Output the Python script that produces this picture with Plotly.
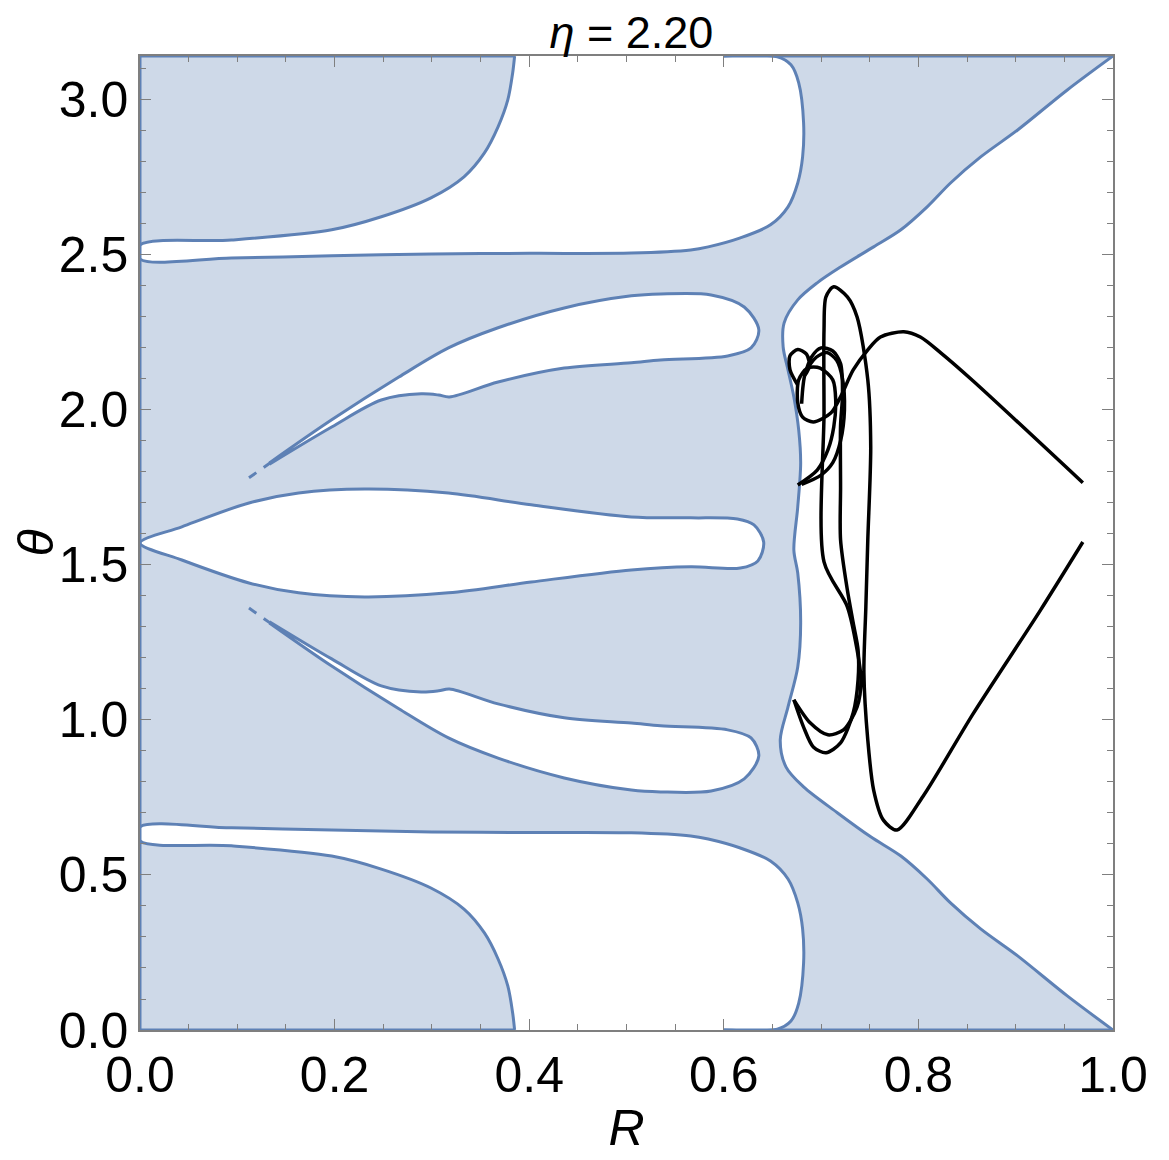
import plotly.graph_objects as go

PI = 3.14159265

# ---- region boundaries (R, theta) ----
# white gap under the top-left lobe (right wall, thin band, lobe edge)
top_gap_R = [0.600, 0.655, 0.669, 0.677, 0.682, 0.681, 0.676, 0.666, 0.648, 0.617, 0.584, 0.566,
             0.505, 0.400, 0.300, 0.197, 0.094, 0.0,
             0.0, 0.094, 0.197, 0.248, 0.299, 0.333, 0.354, 0.368, 0.378, 0.383, 0.385]
top_gap_theta = [3.1416, 3.139, 3.113, 3.055, 2.926, 2.816, 2.732, 2.655, 2.597, 2.555, 2.526, 2.516,
                 2.506, 2.505, 2.503, 2.497, 2.490, 2.487,
                 2.532, 2.548, 2.581, 2.623, 2.684, 2.752, 2.829, 2.913, 3.000, 3.087, 3.1416]

bottom_gap_R = [0.600, 0.655, 0.669, 0.677, 0.682, 0.681, 0.676, 0.666, 0.648, 0.617, 0.584, 0.566,
                0.505, 0.400, 0.300, 0.197, 0.094, 0.0,
                0.0, 0.094, 0.197, 0.248, 0.299, 0.333, 0.354, 0.368, 0.378, 0.383, 0.385]
bottom_gap_theta = [0.0, 0.003, 0.029, 0.087, 0.216, 0.326, 0.410, 0.487, 0.545, 0.587, 0.616, 0.626,
                    0.636, 0.637, 0.639, 0.645, 0.652, 0.655,
                    0.610, 0.594, 0.561, 0.519, 0.458, 0.390, 0.313, 0.229, 0.142, 0.055, 0.0]

# white region on the right (wavy wall)
right_R = [1.0, 0.953, 0.902, 0.864, 0.833, 0.809, 0.782, 0.754, 0.720, 0.696, 0.676, 0.662,
           0.661, 0.666, 0.672, 0.677, 0.679, 0.676, 0.672, 0.676, 0.679, 0.676, 0.666, 0.658,
           0.664, 0.682, 0.717, 0.751, 0.782, 0.809, 0.833, 0.864, 0.902, 0.953, 1.0]
right_theta = [3.1416, 3.032, 2.903, 2.816, 2.732, 2.655, 2.581, 2.526, 2.461, 2.410, 2.355, 2.281,
               2.203, 2.129, 2.042, 1.935, 1.829, 1.687, 1.548, 1.474, 1.313, 1.171, 1.042, 0.935,
               0.848, 0.784, 0.700, 0.623, 0.561, 0.487, 0.410, 0.326, 0.239, 0.110, 0.0]

# central lens at theta = pi/2
lens_R = [0.0, 0.043, 0.112, 0.163, 0.231, 0.317, 0.402, 0.505, 0.566, 0.614, 0.631, 0.641,
          0.635, 0.617, 0.566, 0.505, 0.402, 0.317, 0.231, 0.163, 0.112, 0.043, 0.0]
lens_theta = [1.571, 1.623, 1.700, 1.732, 1.745, 1.732, 1.694, 1.655, 1.652, 1.648, 1.629, 1.574,
              1.513, 1.490, 1.494, 1.484, 1.445, 1.410, 1.397, 1.410, 1.442, 1.516, 1.571]

# upper and lower leaves
leaf_up_R = [0.133, 0.197, 0.266, 0.317, 0.368, 0.436, 0.505, 0.535, 0.587, 0.621, 0.636, 0.628,
             0.604, 0.535, 0.505, 0.436, 0.368, 0.318, 0.307, 0.289, 0.248, 0.197, 0.133]
leaf_up_theta = [1.829, 1.968, 2.106, 2.200, 2.265, 2.329, 2.368, 2.374, 2.371, 2.332, 2.258, 2.200,
                 2.174, 2.161, 2.152, 2.135, 2.090, 2.042, 2.048, 2.052, 2.032, 1.945, 1.825]
leaf_dn_R = [0.133, 0.197, 0.266, 0.317, 0.368, 0.436, 0.505, 0.535, 0.587, 0.621, 0.636, 0.628,
             0.604, 0.535, 0.505, 0.436, 0.368, 0.318, 0.307, 0.289, 0.248, 0.197, 0.133]
leaf_dn_theta = [1.313, 1.174, 1.036, 0.942, 0.877, 0.813, 0.774, 0.768, 0.771, 0.810, 0.884, 0.942,
                 0.968, 0.981, 0.990, 1.007, 1.052, 1.100, 1.094, 1.090, 1.110, 1.197, 1.317]
tip_up_R, tip_up_theta = [0.112, 0.135], [1.781, 1.832]
tip_dn_R, tip_dn_theta = [0.112, 0.135], [1.361, 1.310]

# ---- trajectories ----
traj_a_R = [0.969, 0.856, 0.823, 0.802, 0.785, 0.761, 0.748, 0.733, 0.720, 0.710, 0.692, 0.681,
            0.676, 0.677, 0.686, 0.699, 0.712, 0.715, 0.713, 0.707, 0.696, 0.676]
traj_a_theta = [1.765, 2.094, 2.184, 2.235, 2.252, 2.235, 2.194, 2.129, 2.042, 1.990, 1.961, 1.977,
                2.023, 2.097, 2.135, 2.135, 2.097, 2.032, 1.945, 1.871, 1.806, 1.758]

traj_b_R = [0.969, 0.925, 0.856, 0.805, 0.778, 0.764, 0.754, 0.748, 0.744, 0.746, 0.748, 0.751,
            0.748, 0.737, 0.727, 0.713, 0.705, 0.703, 0.703, 0.703, 0.727, 0.737, 0.741, 0.737,
            0.723, 0.707, 0.689, 0.672]
traj_b_theta = [1.574, 1.352, 1.019, 0.755, 0.645, 0.677, 0.774, 0.935, 1.152, 1.365, 1.581, 1.881,
                2.097, 2.300, 2.365, 2.397, 2.365, 2.258, 1.990, 1.510, 1.365, 1.226, 1.129, 1.042,
                0.968, 0.952, 0.990, 1.065]

traj_c_R = [0.676, 0.668, 0.668, 0.676, 0.685, 0.688, 0.683, 0.690, 0.700, 0.712, 0.720, 0.722,
            0.720, 0.720, 0.720, 0.727, 0.733, 0.738, 0.738, 0.733, 0.720, 0.705, 0.692, 0.682, 0.672]
traj_c_theta = [2.080, 2.130, 2.175, 2.195, 2.180, 2.140, 2.110, 2.170, 2.200, 2.190, 2.150, 2.050,
                1.950, 1.750, 1.581, 1.419, 1.313, 1.226, 1.129, 1.023, 0.926, 0.894, 0.913, 0.977, 1.065]

traj_d_R = [0.680, 0.684, 0.695, 0.706, 0.716, 0.722, 0.724, 0.720, 0.712, 0.700, 0.680]
traj_d_theta = [2.020, 2.120, 2.170, 2.185, 2.160, 2.100, 2.000, 1.900, 1.830, 1.790, 1.760]

SHADE = '#CED9E8'
BLUE = '#5E81B5'

fig = go.Figure()

# shaded background of the region
fig.add_trace(go.Scatter(x=[0, 1, 1, 0, 0], y=[0, 0, PI, PI, 0], mode='lines',
                         fill='toself', fillcolor=SHADE, line=dict(width=0), hoverinfo='skip'))

# white holes with blue boundaries
for rr, tt in [(top_gap_R, top_gap_theta), (bottom_gap_R, bottom_gap_theta), (right_R, right_theta),
               (lens_R, lens_theta), (leaf_up_R, leaf_up_theta), (leaf_dn_R, leaf_dn_theta)]:
    fig.add_trace(go.Scatter(x=rr, y=tt, mode='lines', fill='toself', fillcolor='white',
                             line=dict(color=BLUE, width=3, shape='spline', smoothing=0.9),
                             hoverinfo='skip'))

for rr, tt in [(tip_up_R, tip_up_theta), (tip_dn_R, tip_dn_theta)]:
    fig.add_trace(go.Scatter(x=rr, y=tt, mode='lines', line=dict(color=BLUE, width=3, dash='dash')))

# boundary of the shaded region along the frame
edge_R = [0.385, 0.0, 0.0, 0.385, None, 0.600, 1.0, None, 0.600, 1.0]
edge_theta = [PI, PI, 0.0, 0.0, None, PI, PI, None, 0.0, 0.0]
fig.add_trace(go.Scatter(x=edge_R, y=edge_theta, mode='lines', line=dict(color=BLUE, width=3)))

for rr, tt in [(traj_a_R, traj_a_theta), (traj_b_R, traj_b_theta),
               (traj_c_R, traj_c_theta), (traj_d_R, traj_d_theta)]:
    fig.add_trace(go.Scatter(x=rr, y=tt, mode='lines',
                             line=dict(color='black', width=3.5, shape='spline', smoothing=0.8)))

axis_font = dict(family='Liberation Sans, Arial, sans-serif', size=50, color='black')
frame = dict(showline=True, linecolor='#7f7f7f', linewidth=1.5, mirror='ticks', showgrid=False,
             zeroline=False, ticks='inside', ticklen=11, tickcolor='#7f7f7f', tickwidth=1.2,
             tickfont=axis_font)

fig.update_layout(
    width=1161, height=1152,
    margin=dict(l=130, r=56, t=48, b=130),
    plot_bgcolor='white', paper_bgcolor='white',
    showlegend=False,
    title=dict(text='<i>η</i> = 2.20', x=0.537, xanchor='center', y=0.979, yanchor='middle',
               font=dict(family='Liberation Sans, Arial, sans-serif', size=45, color='black')),
    xaxis=dict(range=[0, 1], tickvals=[0, 0.2, 0.4, 0.6, 0.8, 1.0],
               ticktext=['0.0', '0.2', '0.4', '0.6', '0.8', '1.0'],
               minor=dict(dtick=0.05, tick0=0, ticks='inside', ticklen=6, tickcolor='#7f7f7f'),
               title=dict(text='<i>R</i>', font=axis_font, standoff=8), **frame),
    yaxis=dict(range=[0, PI], tickvals=[0, 0.5, 1.0, 1.5, 2.0, 2.5, 3.0],
               ticktext=['0.0', '0.5', '1.0', '1.5', '2.0', '2.5', '3.0'],
               minor=dict(dtick=0.1, tick0=0, ticks='inside', ticklen=6, tickcolor='#7f7f7f'),
               title=dict(text='<i>θ</i>', font=axis_font, standoff=4), **frame),
)

fig.write_html("out.html")
